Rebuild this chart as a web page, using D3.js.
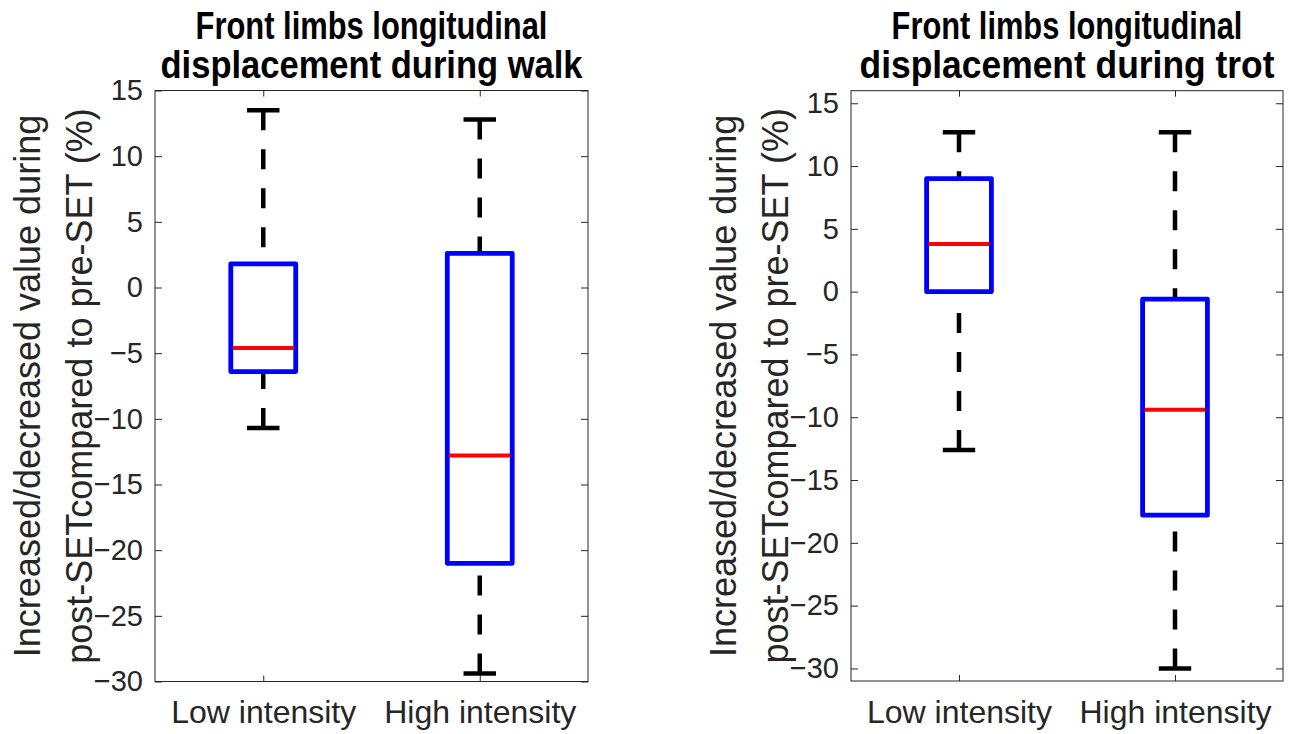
<!DOCTYPE html>
<html>
<head>
<meta charset="utf-8">
<script src="https://cdn.jsdelivr.net/npm/d3@7"></script>
<style>
  html, body { margin: 0; padding: 0; background: #fff; }
  svg { display: block; font-family: 'Liberation Sans', Arial, sans-serif; }
</style>
</head>
<body>
<div id="chart"></div>
<script>
const categories = ['Low intensity', 'High intensity'];
const yTicks = [-30, -25, -20, -15, -10, -5, 0, 5, 10, 15];

// walk panel
const walkTitle = ['Front limbs longitudinal', 'displacement during walk'];
const walkLower = [-10.7, -29.4];
const walkQ1 = [-6.4, -21.0];
const walkMedian = [-4.6, -12.8];
const walkQ3 = [1.8, 2.6];
const walkUpper = [13.5, 12.8];

// trot panel
const trotTitle = ['Front limbs longitudinal', 'displacement during trot'];
const trotLower = [-12.6, -30.0];
const trotQ1 = [0.0, -17.8];
const trotMedian = [3.8, -9.4];
const trotQ3 = [9.0, -0.6];
const trotUpper = [12.7, 12.7];

const yLabel = ['Increased/decreased value during', 'post-SETcompared to pre-SET (%)'];

const width = 1298;
const height = 734;
const axisColor = '#262626';

const svg = d3.select('#chart').append('svg')
  .attr('width', width)
  .attr('height', height);

function drawPanel(opts) {
  const g = svg.append('g');
  const x = d3.scaleLinear().domain([0.5, 2.5]).range([opts.left, opts.right]);
  const y = d3.scaleLinear().domain(opts.yDomain).range([opts.bottom, opts.top]);
  const pos = categories.map((d, i) => i + 1);

  // frame
  g.append('rect')
    .attr('x', opts.left)
    .attr('y', opts.top)
    .attr('width', opts.right - opts.left)
    .attr('height', opts.bottom - opts.top)
    .attr('fill', 'none')
    .attr('stroke', axisColor)
    .attr('stroke-width', 1);

  const yAxis = g.append('g')
    .attr('transform', `translate(${opts.left},0)`)
    .call(d3.axisLeft(y).tickValues(yTicks).tickSize(-7).tickPadding(12));
  yAxis.select('.domain').remove();
  yAxis.selectAll('line').attr('stroke', axisColor);
  yAxis.selectAll('text')
    .attr('fill', axisColor)
    .style('font-size', '29px');

  const yAxisR = g.append('g')
    .attr('transform', `translate(${opts.right},0)`)
    .call(d3.axisRight(y).tickValues(yTicks).tickSize(-7).tickFormat(''));
  yAxisR.select('.domain').remove();
  yAxisR.selectAll('line').attr('stroke', axisColor);

  const xAxis = g.append('g')
    .attr('transform', `translate(0,${opts.bottom})`)
    .call(d3.axisBottom(x).tickValues(pos).tickSize(-6).tickPadding(19)
      .tickFormat((d) => categories[d - 1]));
  xAxis.select('.domain').remove();
  xAxis.selectAll('line').attr('stroke', axisColor);
  xAxis.selectAll('text')
    .attr('fill', axisColor)
    .style('font-size', '32px');

  const xAxisT = g.append('g')
    .attr('transform', `translate(0,${opts.top})`)
    .call(d3.axisTop(x).tickValues(pos).tickSize(-6).tickFormat(''));
  xAxisT.select('.domain').remove();
  xAxisT.selectAll('line').attr('stroke', axisColor);

  // boxes
  const stats = pos.map((p, i) => ({
    p,
    lo: opts.lower[i],
    q1: opts.q1[i],
    med: opts.median[i],
    q3: opts.q3[i],
    hi: opts.upper[i],
  }));

  const boxW = 0.15;
  const capW = 0.075;
  const bx = g.selectAll('.bx').data(stats).enter().append('g').attr('class', 'bx');

  // whiskers drawn from the cap toward the box
  bx.append('line')
    .attr('x1', (d) => x(d.p)).attr('x2', (d) => x(d.p))
    .attr('y1', (d) => y(d.hi)).attr('y2', (d) => y(d.q3))
    .attr('stroke', '#000').attr('stroke-width', 4.5)
    .attr('stroke-dasharray', '20,19');
  bx.append('line')
    .attr('x1', (d) => x(d.p)).attr('x2', (d) => x(d.p))
    .attr('y1', (d) => y(d.lo)).attr('y2', (d) => y(d.q1))
    .attr('stroke', '#000').attr('stroke-width', 4.5)
    .attr('stroke-dasharray', '20,19');

  bx.append('line')
    .attr('x1', (d) => x(d.p - capW)).attr('x2', (d) => x(d.p + capW))
    .attr('y1', (d) => y(d.hi)).attr('y2', (d) => y(d.hi))
    .attr('stroke', '#000').attr('stroke-width', 4.5);
  bx.append('line')
    .attr('x1', (d) => x(d.p - capW)).attr('x2', (d) => x(d.p + capW))
    .attr('y1', (d) => y(d.lo)).attr('y2', (d) => y(d.lo))
    .attr('stroke', '#000').attr('stroke-width', 4.5);

  bx.append('rect')
    .attr('x', (d) => x(d.p - boxW))
    .attr('y', (d) => y(d.q3))
    .attr('width', (d) => x(d.p + boxW) - x(d.p - boxW))
    .attr('height', (d) => y(d.q1) - y(d.q3))
    .attr('fill', '#fff')
    .attr('stroke', '#0000ff')
    .attr('stroke-width', 4.8)
    .attr('stroke-linejoin', 'round');

  bx.append('line')
    .attr('x1', (d) => x(d.p - boxW) + 2).attr('x2', (d) => x(d.p + boxW) - 2)
    .attr('y1', (d) => y(d.med)).attr('y2', (d) => y(d.med))
    .attr('stroke', '#ff0000').attr('stroke-width', 4);

  // title, squeezed horizontally to the narrow look of the original
  const cx = (opts.left + opts.right) / 2;
  g.selectAll('.title').data(opts.title).enter().append('text')
    .attr('class', 'title')
    .attr('text-anchor', 'middle')
    .style('font-size', '38px')
    .style('font-weight', 'bold')
    .attr('fill', '#000')
    .text((d) => d)
    .attr('transform', function (d, i) {
      const natural = this.getComputedTextLength();
      const sx = opts.titleWidths[i] / natural;
      return `translate(${cx},${39 + i * 39}) scale(${sx},1)`;
    });

  // y label
  const cy = (opts.top + opts.bottom) / 2;
  g.selectAll('.ylab').data(yLabel).enter().append('text')
    .attr('class', 'ylab')
    .attr('transform', (d, i) => `translate(${opts.left - 115 + i * 52},${cy}) rotate(-90)`)
    .attr('text-anchor', 'middle')
    .style('font-size', '36px')
    .attr('fill', axisColor)
    .text((d) => d);
}

drawPanel({
  left: 155, right: 588, top: 90.5, bottom: 681.5,
  yDomain: [-30, 15],
  title: walkTitle, titleWidths: [352, 422],
  lower: walkLower, q1: walkQ1, median: walkMedian, q3: walkQ3, upper: walkUpper,
});

drawPanel({
  left: 851, right: 1283, top: 90.7, bottom: 681,
  yDomain: [-31, 16],
  title: trotTitle, titleWidths: [351, 415],
  lower: trotLower, q1: trotQ1, median: trotMedian, q3: trotQ3, upper: trotUpper,
});
</script>
</body>
</html>
